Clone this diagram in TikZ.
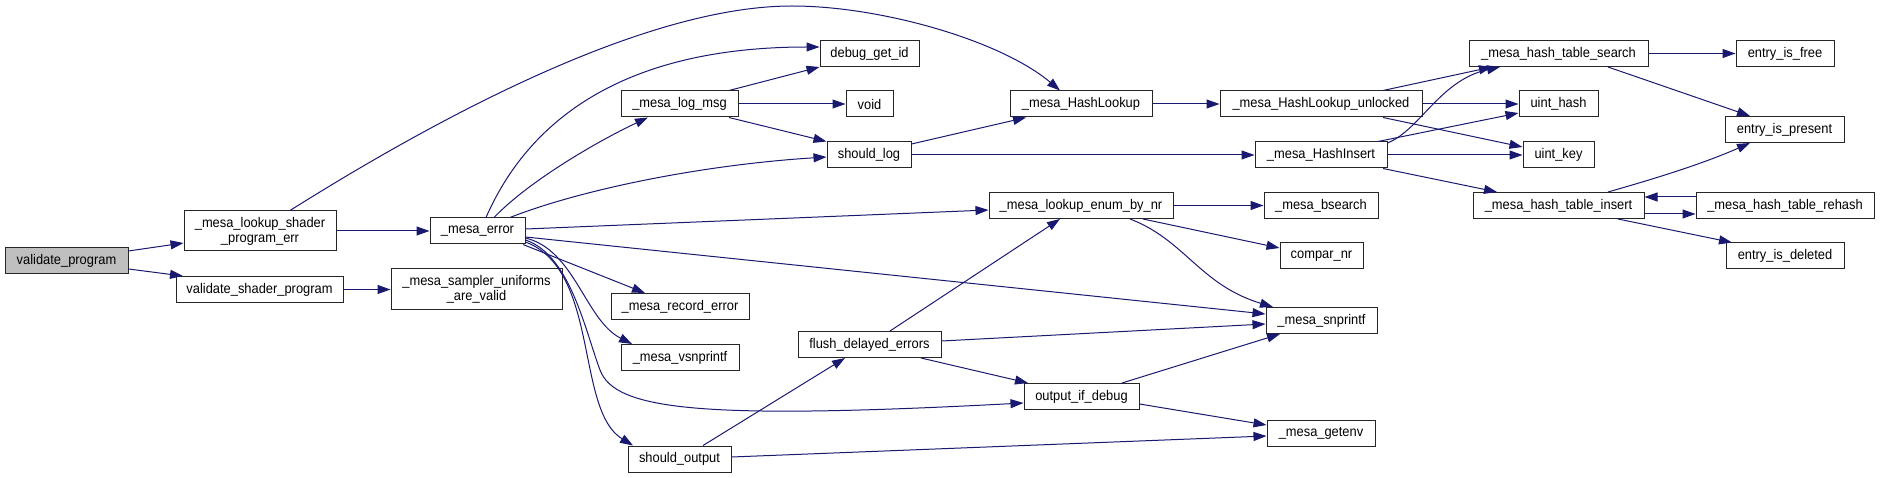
\documentclass[tikz,border=0pt]{standalone}
\usepackage{fontspec}
\setmainfont{Liberation Sans}[FakeStretch=0.92]
\usetikzlibrary{arrows.meta}
\definecolor{edgeblue}{RGB}{25,25,112}
\definecolor{nodegray}{RGB}{191,191,191}
\begin{document}
\begin{tikzpicture}[x=1pt,y=-1pt,
  box/.style={draw=black!85, line width=1pt, fill=white, inner sep=0pt,
    minimum height=26pt, align=center, font=\fontsize{14}{15}\selectfont},
  edge/.style={draw=edgeblue, line width=1pt,
    -{Triangle[length=13pt,width=9pt]}, fill=none}]
\useasboundingbox (0,0) rectangle (1880,478);
% nodes
\node[box, fill=nodegray, minimum width=123pt] (vp) at (66.5,260.5) {validate\_program};
\node[box, minimum width=152pt, minimum height=40pt] (lsp) at (260,231) {\_mesa\_lookup\_shader\\\_program\_err};
\node[box, minimum width=95pt] (me) at (477.5,231) {\_mesa\_error};
\node[box, minimum width=167pt] (vsp) at (259.5,289.5) {validate\_shader\_program};
\node[box, minimum width=171pt, minimum height=41pt] (msu) at (476.5,289.5) {\_mesa\_sampler\_uniforms\\\_are\_valid};
\node[box, minimum width=99pt] (dgi) at (869.5,53.5) {debug\_get\_id};
\node[box, minimum width=117pt] (lm) at (679.5,104) {\_mesa\_log\_msg};
\node[box, minimum width=47pt] (void) at (869.5,104) {void};
\node[box, minimum width=84pt] (sl) at (869,155) {should\_log};
\node[box, minimum width=138pt] (mre) at (680,306.5) {\_mesa\_record\_error};
\node[box, minimum width=118pt] (mvs) at (680,357.5) {\_mesa\_vsnprintf};
\node[box, minimum width=103pt] (so) at (679.5,459) {should\_output};
\node[box, minimum width=143pt] (fde) at (869.5,344.5) {flush\_delayed\_errors};
\node[box, minimum width=142pt] (hl) at (1081,104) {\_mesa\_HashLookup};
\node[box, minimum width=184pt] (len) at (1081,205.5) {\_mesa\_lookup\_enum\_by\_nr};
\node[box, minimum width=115pt] (oid) at (1081.5,396.5) {output\_if\_debug};
\node[box, minimum width=202pt] (hlu) at (1321,104) {\_mesa\_HashLookup\_unlocked};
\node[box, minimum width=132pt] (hi) at (1321,155) {\_mesa\_HashInsert};
\node[box, minimum width=114pt] (bs) at (1321,205.5) {\_mesa\_bsearch};
\node[box, minimum width=83pt] (cnr) at (1321.5,256) {compar\_nr};
\node[box, minimum width=111pt] (snp) at (1321.5,320.5) {\_mesa\_snprintf};
\node[box, minimum width=108pt] (ge) at (1321,433.5) {\_mesa\_getenv};
\node[box, minimum width=179pt] (hts) at (1558.5,53.5) {\_mesa\_hash\_table\_search};
\node[box, minimum width=79pt] (uh) at (1558.5,104) {uint\_hash};
\node[box, minimum width=71pt] (uk) at (1558.5,155) {uint\_key};
\node[box, minimum width=171pt] (hti) at (1558.5,205.5) {\_mesa\_hash\_table\_insert};
\node[box, minimum width=98pt] (eif) at (1785,53.5) {entry\_is\_free};
\node[box, minimum width=119pt] (eip) at (1784.5,129.5) {entry\_is\_present};
\node[box, minimum width=178pt] (htr) at (1785,205.5) {\_mesa\_hash\_table\_rehash};
\node[box, minimum width=118pt] (eid) at (1785,256) {entry\_is\_deleted};
% edges
\draw[edge] (vp.east |- 0,251) -- (lsp.west |- 0,243);
\draw[edge] (vp.east |- 0,269) -- (183,0 |- vsp.north);
\draw[edge] (lsp.east) -- (me.west);
\draw[edge] (290,0 |- lsp.north) .. controls (450,110) and (650,6) .. (792,6) .. controls (880,6) and (1000,40) .. (1060,0 |- hl.north);
\draw[edge] (vsp.east) -- (msu.west);
\draw[edge] (486,0 |- me.north) .. controls (520,140) and (600,47) .. (dgi.west |- 0,47);
\draw[edge] (494,0 |- me.north) .. controls (530,180) and (600,140) .. (648,0 |- lm.south);
\draw[edge] (510,0 |- me.north) .. controls (580,190) and (700,165) .. (sl.west |- 0,157);
\draw[edge] (me.east |- 0,229) -- (len.west |- 0,210);
\draw[edge] (me.east |- 0,237) -- (snp.west |- 0,314);
\draw[edge] (523,0 |- me.south) -- (645,0 |- mre.north);
\draw[edge] (me.east |- 0,238) .. controls (575,250) and (585,320) .. (632,0 |- mvs.north);
\draw[edge] (me.east |- 0,240) .. controls (570,255) and (585,330) .. (600,370) .. controls (615,410) and (700,420) .. (oid.west |- 0,403);
\draw[edge] (me.east |- 0,242) .. controls (600,270) and (575,410) .. (633,0 |- so.north);
\draw[edge] (729,0 |- lm.north) -- (dgi.south west);
\draw[edge] (lm.east) -- (void.west);
\draw[edge] (729,0 |- lm.south) -- (sl.north west);
\draw[edge] (sl.east |- 0,144) -- (1026,0 |- hl.south);
\draw[edge] (sl.east) -- (hi.west);
\draw[edge] (hl.east) -- (hlu.west);
\draw[edge] (1383,0 |- hlu.north) -- (1492,0 |- hts.south);
\draw[edge] (hlu.east) -- (uh.west);
\draw[edge] (1383,0 |- hlu.south) -- (uk.west |- 0,147);
\draw[edge] (hi.east |- 0,143) .. controls (1420,130) and (1440,80) .. (1500,0 |- hts.south);
\draw[edge] (1378,0 |- hi.north) -- (uh.west |- 0,113);
\draw[edge] (hi.east) -- (uk.west);
\draw[edge] (1383,0 |- hi.south) -- (1497,0 |- hti.north);
\draw[edge] (hts.east) -- (eif.west);
\draw[edge] (1608,0 |- hts.south) -- (1750,0 |- eip.north);
\draw[edge] (1608,0 |- hti.north) .. controls (1650,180) and (1700,165) .. (1750,0 |- eip.south);
\draw[edge] (hti.east |- 0,214) -- (htr.west |- 0,214);
\draw[edge] (htr.west |- 0,197) -- (hti.east |- 0,197);
\draw[edge] (1618,0 |- hti.south) -- (1732,0 |- eid.north);
\draw[edge] (len.east) -- (bs.west);
\draw[edge] (1143,0 |- len.south) -- (cnr.west |- 0,248);
\draw[edge] (1130,0 |- len.south) .. controls (1185,240) and (1200,285) .. (1273,0 |- snp.north);
\draw[edge] (890,0 |- fde.north) -- (1060,0 |- len.south);
\draw[edge] (fde.east |- 0,341) -- (snp.west |- 0,324);
\draw[edge] (921,0 |- fde.south) -- (1028,0 |- oid.north);
\draw[edge] (1122,0 |- oid.north) -- (1280,0 |- snp.south);
\draw[edge] (oid.east |- 0,404) -- (ge.west |- 0,425);
\draw[edge] (703,0 |- so.north) -- (845,0 |- fde.south);
\draw[edge] (so.east |- 0,457) -- (ge.west |- 0,436);
\end{tikzpicture}
\end{document}
